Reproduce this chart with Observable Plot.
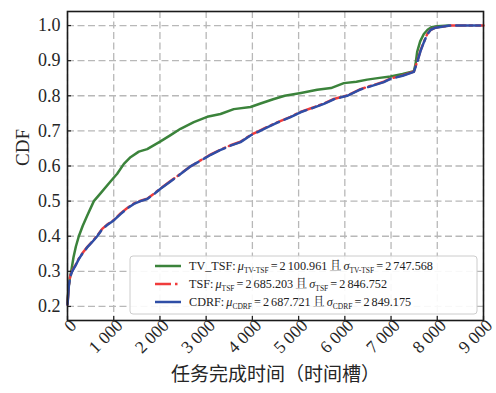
<!DOCTYPE html>
<html><head><meta charset="utf-8">
<script src="https://cdn.jsdelivr.net/npm/d3@7"></script>
<script src="https://cdn.jsdelivr.net/npm/@observablehq/plot@0.6"></script>
<style>body{margin:0;background:#fff}</style>
</head><body><div id="chart"></div>
<script>
// ---- data ----
const seriesNames = ["TV_TSF", "TSF", "CDRF"];
const seriesSubs = ["TV-TSF", "TSF", "CDRF"];
const seriesMu = ["2 100.961", "2 685.203", "2 687.721"];
const seriesSigma = ["2 747.568", "2 846.752", "2 849.175"];
const seriesColors = ["#3b833b", "#f03c3c", "#2f4ea6"];

const tvTsfX = [0, 20, 50, 80, 130, 180, 245, 330, 430, 570, 700, 930, 1075, 1220, 1363, 1543, 1724, 2012, 2230, 2445, 2733, 3022, 3310, 3598, 3959, 4176, 4450, 4700, 5050, 5402, 5700, 5979, 6250, 6484, 6750, 6988, 7250, 7493, 7530, 7565, 7630, 7709, 7790, 7870, 8000, 8250];
const tvTsfY = [0.21, 0.25, 0.28, 0.30, 0.34, 0.37, 0.40, 0.43, 0.46, 0.50, 0.52, 0.556, 0.578, 0.606, 0.625, 0.641, 0.648, 0.670, 0.688, 0.706, 0.725, 0.740, 0.748, 0.762, 0.768, 0.778, 0.790, 0.800, 0.808, 0.817, 0.822, 0.836, 0.840, 0.846, 0.851, 0.855, 0.862, 0.870, 0.890, 0.925, 0.955, 0.976, 0.988, 0.995, 0.998, 1.0];

const tsfX = [0, 30, 60, 101, 173, 245, 330, 425, 530, 642, 750, 858, 1000, 1147, 1300, 1435, 1580, 1724, 1870, 2012, 2228, 2445, 2650, 2878, 3100, 3300, 3527, 3743, 3959, 4104, 4320, 4550, 4825, 5041, 5300, 5546, 5762, 6051, 6340, 6484, 6844, 6988, 7250, 7493, 7560, 7637, 7709, 7782, 7860, 7962, 8286, 9000];
const tsfY = [0.205, 0.262, 0.287, 0.302, 0.318, 0.336, 0.353, 0.369, 0.384, 0.401, 0.421, 0.433, 0.446, 0.465, 0.481, 0.493, 0.501, 0.507, 0.521, 0.536, 0.557, 0.578, 0.598, 0.616, 0.633, 0.646, 0.659, 0.669, 0.688, 0.697, 0.711, 0.725, 0.740, 0.754, 0.766, 0.778, 0.791, 0.801, 0.819, 0.825, 0.840, 0.849, 0.858, 0.869, 0.895, 0.929, 0.953, 0.976, 0.988, 0.994, 1.0, 1.0];

const cdrfX = [0, 30, 60, 101, 173, 245, 330, 425, 530, 642, 750, 858, 1000, 1147, 1300, 1435, 1580, 1724, 1870, 2012, 2228, 2445, 2650, 2878, 3100, 3300, 3527, 3743, 3959, 4104, 4320, 4550, 4825, 5041, 5300, 5546, 5762, 6051, 6340, 6484, 6844, 6988, 7250, 7493, 7560, 7637, 7709, 7782, 7860, 7962, 8286, 9000];
const cdrfY = [0.205, 0.26, 0.285, 0.30, 0.316, 0.335, 0.352, 0.368, 0.383, 0.40, 0.42, 0.432, 0.445, 0.463, 0.480, 0.492, 0.500, 0.506, 0.520, 0.535, 0.556, 0.577, 0.598, 0.615, 0.632, 0.645, 0.658, 0.668, 0.687, 0.696, 0.710, 0.724, 0.739, 0.753, 0.765, 0.777, 0.790, 0.800, 0.818, 0.824, 0.839, 0.848, 0.857, 0.868, 0.893, 0.927, 0.952, 0.975, 0.988, 0.994, 1.0, 1.0];

const xTicks = [0, 1000, 2000, 3000, 4000, 5000, 6000, 7000, 8000, 9000];
const xTickLabels = ["0", "1 000", "2 000", "3 000", "4 000", "5 000", "6 000", "7 000", "8 000", "9 000"];
const yTicks = [0.2, 0.3, 0.4, 0.5, 0.6, 0.7, 0.8, 0.9, 1.0];
const yTickLabels = ["0.2", "0.3", "0.4", "0.5", "0.6", "0.7", "0.8", "0.9", "1.0"];
const xLabel = "任务完成时间（时间槽）";
const yLabel = "CDF";

// ---- build tables ----
const toRows = (xs, ys) => xs.map((x, i) => ({x, y: ys[i]}));
const tvRows = toRows(tvTsfX, tvTsfY);
const tsfRows = toRows(tsfX, tsfY);
const cdrfRows = toRows(cdrfX, cdrfY);

const W = 496, H = 393, mL = 67, mR = 13, mT = 11, mB = 73;
const innerW = W - mL - mR, innerH = H - mT - mB;
const serif = "'Liberation Serif', 'Times New Roman', serif";

const plot = Plot.plot({
  width: W, height: H,
  marginLeft: mL, marginRight: mR, marginTop: mT, marginBottom: mB,
  style: {fontFamily: serif, fontSize: "18px", color: "#262626", background: "#fff", overflow: "visible"},
  x: {domain: [0, 9000]},
  y: {domain: [0.16, 1.04]},
  marks: [
    Plot.gridX(xTicks, {stroke: "#b8b8b8", strokeOpacity: 1, strokeWidth: 1.3, strokeDasharray: "7,3.5"}),
    Plot.gridY(yTicks, {stroke: "#b8b8b8", strokeOpacity: 1, strokeWidth: 1.3, strokeDasharray: "7,3.5"}),
    Plot.line(tvRows, {x: "x", y: "y", stroke: seriesColors[0], strokeWidth: 2.5}),
    Plot.line(tsfRows, {x: "x", y: "y", stroke: seriesColors[1], strokeWidth: 2.5, strokeDasharray: "16,4,2.5,4"}),
    Plot.line(cdrfRows, {x: "x", y: "y", stroke: seriesColors[2], strokeWidth: 2.5, strokeDasharray: "24,6"}),
    Plot.tickX(xTicks, {x: d => d, insetTop: innerH - 4, stroke: "#222", strokeWidth: 1.2}),
    Plot.tickY(yTicks, {y: d => d, insetRight: innerW - 4, stroke: "#222", strokeWidth: 1.2}),
    Plot.axisX(xTicks, {tickSize: 0, tickPadding: 2, tickRotate: -45, textAnchor: "end", lineAnchor: "middle", dx: 6,
      tickFormat: d => xTickLabels[xTicks.indexOf(d)], fontSize: 17.5, label: null}),
    Plot.axisY(yTicks, {tickSize: 0, tickPadding: 7, tickFormat: d => yTickLabels[yTicks.indexOf(d)], fontSize: 18, label: null}),
    Plot.frame({stroke: "#1a1a1a", strokeWidth: 1.6}),
    Plot.text([yLabel], {text: d => d, frameAnchor: "left", dx: -45, rotate: -90, fontSize: 19}),
    Plot.text([xLabel], {text: d => d, frameAnchor: "bottom", dy: 60, fontSize: 19, fontFamily: "'Noto Sans CJK SC', sans-serif"})
  ]
});
document.getElementById("chart").appendChild(plot);

// ---- legend inside the axes (lower right) ----
const svg = d3.select(plot);
const lg = svg.append("g").attr("font-family", serif).attr("font-size", 12.2).attr("fill", "#222")
  .attr("text-anchor", "start").attr("word-spacing", "-1px");
const lx = 130, ly = 256, lw = 347, lh = 58;
lg.append("rect").attr("x", lx).attr("y", ly).attr("width", lw).attr("height", lh).attr("rx", 3)
  .attr("fill", "#fff").attr("fill-opacity", 0.9).attr("stroke", "#cccccc").attr("stroke-width", 1);
const dashes = [null, "16,4,2.5,4", "26,6"];
seriesNames.forEach((name, i) => {
  const cy = 266 + i * 18;
  lg.append("line").attr("x1", 155).attr("x2", 181).attr("y1", cy).attr("y2", cy)
    .attr("stroke", seriesColors[i]).attr("stroke-width", 2.5).attr("stroke-dasharray", dashes[i]);
  const t = lg.append("text").attr("x", 189).attr("y", cy).attr("dy", "0.35em").attr("text-anchor", "start");
  t.append("tspan").text(name + ": ");
  t.append("tspan").attr("font-style", "italic").text("μ");
  t.append("tspan").attr("font-size", 7.5).attr("dy", 3).text(seriesSubs[i]);
  t.append("tspan").attr("dy", -3).text(" = " + seriesMu[i] + " ");
  t.append("tspan").attr("font-family", "'Noto Serif CJK SC', 'Noto Sans CJK SC', sans-serif").attr("font-size", 12).text("且");
  t.append("tspan").text(" ");
  t.append("tspan").attr("font-style", "italic").text("σ");
  t.append("tspan").attr("font-size", 7.5).attr("dy", 3).text(seriesSubs[i]);
  t.append("tspan").attr("dy", -3).text(" = " + seriesSigma[i]);
});
</script>
</body></html>
